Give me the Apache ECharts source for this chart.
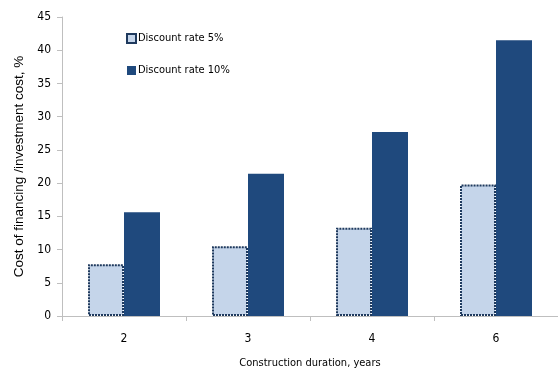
<!DOCTYPE html>
<html><head><meta charset="utf-8">
<script src="https://cdn.jsdelivr.net/npm/echarts@6/dist/echarts.min.js"></script>
<style>html,body{margin:0;padding:0;background:#fff}#c{width:558px;height:372px}</style>
</head><body><div id="c"></div>
<script>
var categories = ['2', '3', '4', '6'];
var rate5 = [7.8, 10.5, 13.3, 19.8];
var rate10 = [15.6, 21.4, 27.7, 41.5];
var seriesNames = ['Discount rate 5%', 'Discount rate 10%'];
var FONT = '"Liberation Sans Narrow", "DejaVu Sans Condensed", "Liberation Sans", Arial, sans-serif';
var chart = echarts.init(document.getElementById('c'));
chart.setOption({
  animation: false,
  textStyle: {fontFamily: FONT},
  grid: {left: 62, right: 0, top: 17, bottom: 56, outerBoundsMode: 'none', containLabel: false},
  legend: {
    orient: 'vertical', left: 121, top: 28, itemGap: 21,
    itemWidth: 9, itemHeight: 9, icon: 'rect',
    textStyle: {fontFamily: FONT, fontSize: 11, color: '#000', padding: [0, 0, 0, -3]},
    data: seriesNames
  },
  xAxis: {
    type: 'category', data: categories,
    name: 'Construction duration, years', nameLocation: 'middle', nameGap: 42,
    nameTextStyle: {fontFamily: FONT, fontSize: 11, color: '#000'},
    axisLine: {lineStyle: {color: '#bfbfbf'}},
    axisTick: {show: true, alignWithLabel: false, length: 5, lineStyle: {color: '#bfbfbf'}},
    axisLabel: {fontFamily: FONT, fontSize: 12, color: '#000', margin: 17}
  },
  yAxis: {
    type: 'value', min: 0, max: 45, interval: 5,
    name: 'Cost of financing /investment cost, %', nameLocation: 'middle', nameGap: 35,
    nameTextStyle: {fontFamily: '"Liberation Sans", Arial, sans-serif', fontSize: 13.5, color: '#000'},
    splitLine: {show: false},
    axisLine: {show: true, lineStyle: {color: '#bfbfbf'}},
    axisTick: {show: true, length: 5, lineStyle: {color: '#bfbfbf'}},
    axisLabel: {fontFamily: FONT, fontSize: 12, color: '#000', margin: 11}
  },
  series: [
    {name: seriesNames[0], type: 'bar', data: rate5, barWidth: 36, barGap: '0%',
     itemStyle: {color: '#c5d5ea', borderColor: '#1f3a5e', borderWidth: 2, borderType: [2, 1]}},
    {name: seriesNames[1], type: 'bar', data: rate10, barWidth: 36,
     itemStyle: {color: '#1f497d'}}
  ]
});
</script></body></html>
